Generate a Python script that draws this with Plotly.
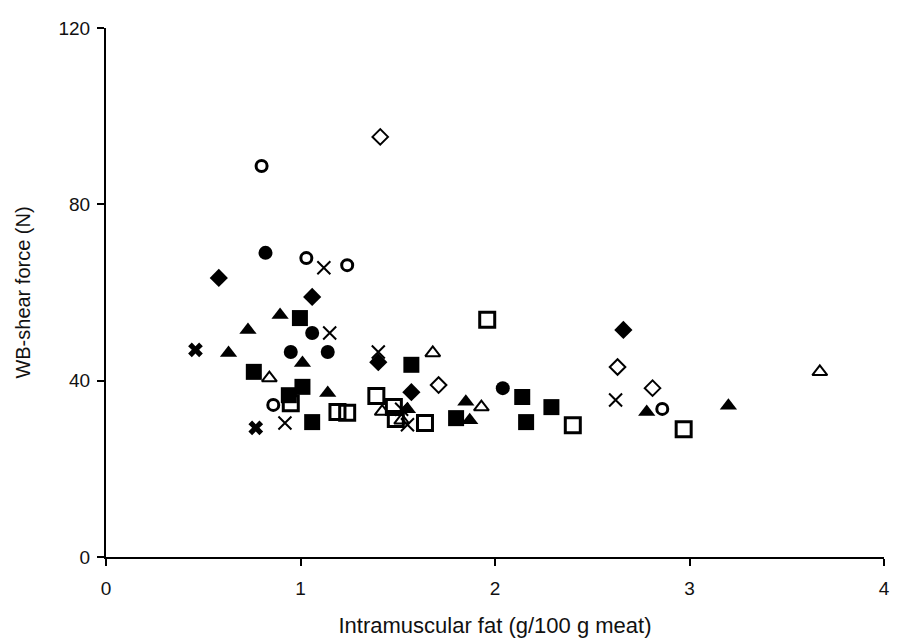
import plotly.graph_objects as go

# Intramuscular fat (g/100 g meat) and WB-shear force (N), per marker group
filled_diamond_x = [0.58, 1.06, 1.40, 2.66, 1.57]
filled_diamond_y = [63.3, 59.0, 44.2, 51.5, 37.4]

filled_circle_x = [0.82, 1.06, 0.95, 1.14, 2.04]
filled_circle_y = [69.0, 50.8, 46.5, 46.5, 38.3]

open_circle_x = [0.80, 1.03, 1.24, 0.86, 2.86]
open_circle_y = [88.7, 67.8, 66.2, 34.5, 33.6]

open_diamond_x = [1.41, 1.71, 2.63, 2.81]
open_diamond_y = [95.3, 39.0, 43.1, 38.3]

cross_x = [1.12, 1.15, 1.40, 2.62, 0.92, 1.52, 1.55]
cross_y = [65.6, 50.8, 46.5, 35.6, 30.4, 33.5, 30.0]

bold_cross_x = [0.46, 0.77]
bold_cross_y = [47.0, 29.3]

filled_triangle_x = [0.895, 0.73, 0.63, 1.01, 1.14, 1.85, 2.78, 3.20, 1.55, 1.87]
filled_triangle_y = [54.9, 51.5, 46.3, 44.0, 37.2, 35.2, 32.9, 34.3, 33.5, 31.0]

open_triangle_x = [0.84, 1.68, 1.93, 3.67, 1.42, 1.52]
open_triangle_y = [40.6, 46.3, 34.0, 42.0, 33.0, 31.0]

filled_square_x = [0.997, 0.76, 1.01, 0.94, 1.06, 1.57, 2.14, 2.29, 2.16, 1.80]
filled_square_y = [54.2, 42.0, 38.6, 36.7, 30.6, 43.6, 36.3, 34.0, 30.6, 31.5]

open_square_x = [1.96, 1.39, 0.95, 1.19, 1.24, 1.48, 1.49, 1.64, 2.40, 2.97]
open_square_y = [53.8, 36.5, 34.9, 32.9, 32.7, 34.0, 31.3, 30.4, 29.9, 29.0]

x_ticks = [0, 1, 2, 3, 4]
y_ticks = [0, 40, 80, 120]

INK = "#000000"

groups = [
    (filled_diamond_x, filled_diamond_y, dict(symbol="diamond", size=14, color=INK, line=dict(width=0))),
    (filled_circle_x, filled_circle_y, dict(symbol="circle", size=14, color=INK, line=dict(width=0))),
    (open_circle_x, open_circle_y, dict(symbol="circle-open", size=11, color=INK, line=dict(width=3, color=INK))),
    (open_diamond_x, open_diamond_y, dict(symbol="diamond-open", size=12, color=INK, line=dict(width=2, color=INK))),
    (cross_x, cross_y, dict(symbol="x-thin-open", size=13, color=INK, line=dict(width=2, color=INK))),
    (bold_cross_x, bold_cross_y, dict(symbol="x", size=13, color=INK, line=dict(width=0))),
    (filled_triangle_x, filled_triangle_y, dict(symbol="triangle-up", size=15, color=INK, line=dict(width=0))),
    (open_triangle_x, open_triangle_y, dict(symbol="triangle-up-open", size=13, color=INK, line=dict(width=2, color=INK))),
    (filled_square_x, filled_square_y, dict(symbol="square", size=16, color=INK, line=dict(width=0))),
    (open_square_x, open_square_y, dict(symbol="square-open", size=15, color=INK, line=dict(width=3, color=INK))),
]

fig = go.Figure()
for xs, ys, mk in groups:
    fig.add_trace(go.Scatter(x=xs, y=ys, mode="markers", marker=mk, showlegend=False, hoverinfo="skip"))

font_family = "Liberation Sans, Arial, sans-serif"

fig.update_layout(
    width=898,
    height=639,
    margin=dict(l=106, r=14, t=28, b=82, autoexpand=False),
    paper_bgcolor="white",
    plot_bgcolor="white",
    font=dict(family=font_family, size=19, color="#111111"),
    xaxis=dict(
        range=[0, 4],
        tickvals=x_ticks,
        ticktext=[str(v) for v in x_ticks],
        showgrid=False,
        zeroline=False,
        showline=True,
        linecolor=INK,
        linewidth=2,
        ticks="outside",
        ticklen=7,
        tickwidth=2,
        tickcolor=INK,
        ticklabelstandoff=6,
        tickfont=dict(size=19),
        automargin=False,
        title=dict(text="Intramuscular fat (g/100 g meat)", standoff=20, font=dict(size=22)),
    ),
    yaxis=dict(
        range=[0, 120],
        tickvals=y_ticks,
        ticktext=[str(v) for v in y_ticks],
        showgrid=False,
        zeroline=False,
        showline=True,
        linecolor=INK,
        linewidth=2,
        ticks="outside",
        ticklen=7,
        tickwidth=2,
        tickcolor=INK,
        ticklabelstandoff=3,
        tickfont=dict(size=19),
        automargin=False,
        title=dict(text="WB-shear force (N)", standoff=22, font=dict(size=20)),
    ),
)

fig.write_html("out.html")
